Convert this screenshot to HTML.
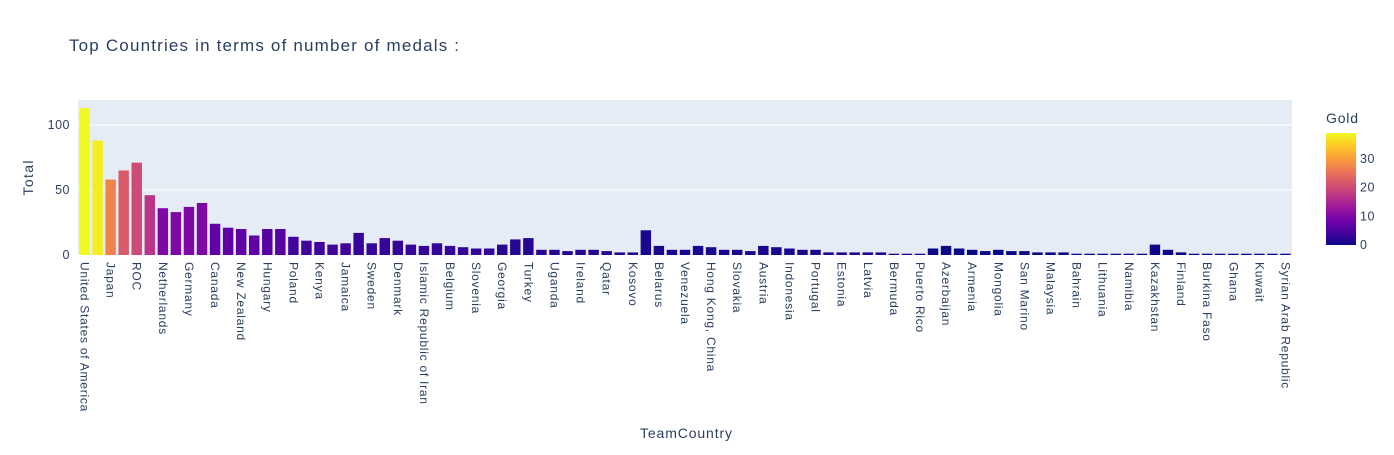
<!DOCTYPE html>
<html><head><meta charset="utf-8">
<style>
body{margin:0;background:#fff;font-family:"Liberation Sans",Arial,sans-serif;}
svg text{font-family:"Liberation Sans",Arial,sans-serif;fill:#2a3f5f;}
</style></head>
<body>
<svg id="chart" width="1394" height="450" xmlns="http://www.w3.org/2000/svg">
<defs>
<linearGradient id="plasma" x1="0" y1="1" x2="0" y2="0">
<stop offset="0" stop-color="#0d0887"/><stop offset="0.111" stop-color="#46039f"/><stop offset="0.222" stop-color="#7201a8"/><stop offset="0.333" stop-color="#9c179e"/><stop offset="0.444" stop-color="#bd3786"/><stop offset="0.556" stop-color="#d8576b"/><stop offset="0.667" stop-color="#ed7953"/><stop offset="0.778" stop-color="#fb9f3a"/><stop offset="0.889" stop-color="#fdca26"/><stop offset="1" stop-color="#f0f921"/>
</linearGradient>
</defs>
<text x="69" y="51" font-size="17" textLength="390">Top Countries in terms of number of medals :</text>
<rect x="78" y="100" width="1214" height="155" fill="#e5ecf6"/>
<g id="grid"></g>
<g id="bars"></g>
<g id="xlabels"></g>
<g id="ylabels"></g>
<text transform="translate(33,178) rotate(-90)" text-anchor="middle" font-size="14" textLength="35">Total</text>
<text x="640" y="438" font-size="14" textLength="92">TeamCountry</text>
<text x="1326" y="123" font-size="14" textLength="32">Gold</text>
<rect x="1326" y="133" width="30" height="112" fill="url(#plasma)"/>
<g id="cbticks"></g>
</svg>
<script>
const countries=["United States of America","People's Republic of China","Japan","Great Britain","ROC","Australia","Netherlands","France","Germany","Italy","Canada","Brazil","New Zealand","Cuba","Hungary","Republic of Korea","Poland","Czech Republic","Kenya","Norway","Jamaica","Spain","Sweden","Switzerland","Denmark","Croatia","Islamic Republic of Iran","Serbia","Belgium","Bulgaria","Slovenia","Uzbekistan","Georgia","Chinese Taipei","Turkey","Greece","Uganda","Ecuador","Ireland","Israel","Qatar","Bahamas","Kosovo","Ukraine","Belarus","Romania","Venezuela","India","Hong Kong, China","Philippines","Slovakia","South Africa","Austria","Egypt","Indonesia","Ethiopia","Portugal","Tunisia","Estonia","Fiji","Latvia","Thailand","Bermuda","Morocco","Puerto Rico","Colombia","Azerbaijan","Dominican Republic","Armenia","Kyrgyzstan","Mongolia","Argentina","San Marino","Jordan","Malaysia","Nigeria","Bahrain","Saudi Arabia","Lithuania","North Macedonia","Namibia","Turkmenistan","Kazakhstan","Mexico","Finland","Botswana","Burkina Faso","Côte d'Ivoire","Ghana","Grenada","Kuwait","Republic of Moldova","Syrian Arab Republic"];
const gold=[39,38,27,22,20,17,10,10,10,10,7,7,7,7,6,6,4,4,4,4,4,3,3,3,3,3,3,3,3,3,3,3,2,2,2,2,2,2,2,2,2,2,2,1,1,1,1,1,1,1,1,1,1,1,1,1,1,1,1,1,1,1,1,1,1,0,0,0,0,0,0,0,0,0,0,0,0,0,0,0,0,0,0,0,0,0,0,0,0,0,0,0,0];
const total=[113,88,58,65,71,46,36,33,37,40,24,21,20,15,20,20,14,11,10,8,9,17,9,13,11,8,7,9,7,6,5,5,8,12,13,4,4,3,4,4,3,2,2,19,7,4,4,7,6,4,4,3,7,6,5,4,4,2,2,2,2,2,1,1,1,5,7,5,4,3,4,3,3,2,2,2,1,1,1,1,1,1,8,4,2,1,1,1,1,1,1,1,1];
const yTicks=[0,50,100];
const cbTicks=[0,10,20,30];
const NS="http://www.w3.org/2000/svg";
const x0=78,pw=1214,yBase=255,yMax=119.2,ph=155;
const band=pw/countries.length;
const xs=i=>x0+band*i;
const ys=v=>yBase-v/yMax*ph;
const stops=["#0d0887","#46039f","#7201a8","#9c179e","#bd3786","#d8576b","#ed7953","#fb9f3a","#fdca26","#f0f921"];
const gmax=Math.max(...gold);
function hx(c){return [1,3,5].map(k=>parseInt(c.substr(k,2),16));}
function color(v){const t=v/gmax*(stops.length-1);const i=Math.min(Math.floor(t),stops.length-2);const f=t-i;const a=hx(stops[i]),b=hx(stops[i+1]);return "rgb("+a.map((q,k)=>Math.round(q+(b[k]-q)*f)).join(",")+")";}
function mk(tag,attrs,parent){const e=document.createElementNS(NS,tag);for(const k in attrs)e.setAttribute(k,attrs[k]);document.getElementById(parent).appendChild(e);return e;}
yTicks.forEach(t=>{
  if(t>0){const l=mk("line",{x1:x0,x2:x0+pw,y1:ys(t),y2:ys(t),stroke:"#fff","stroke-width":1},"grid");
  
  }
  const tx=mk("text",{x:70,y:ys(t)+4,"text-anchor":"end","font-size":12.5,"letter-spacing":"0.5"},"ylabels");
  tx.textContent=t;
  
  
});
countries.forEach((c,i)=>{
  const h=yBase-ys(total[i]);
  const r=mk("rect",{x:xs(i)+band*0.1,y:ys(total[i]),width:band*0.8,height:h,fill:color(gold[i])},"bars");
  
  
  if(i%2===0){
    const cx=xs(i)+band/2;
    const t=mk("text",{transform:"translate("+(cx-4)+",262) rotate(90)","font-size":12,"letter-spacing":"0.75"},"xlabels");
    t.textContent=c;
    
    
  }
});
cbTicks.forEach(t=>{
  const y=245-t/gmax*112;
  const tx=mk("text",{x:1360,y:y+4,"font-size":12.5,"letter-spacing":"0.5"},"cbticks");
  tx.textContent=t;
  
  
});
</script>
</body></html>
